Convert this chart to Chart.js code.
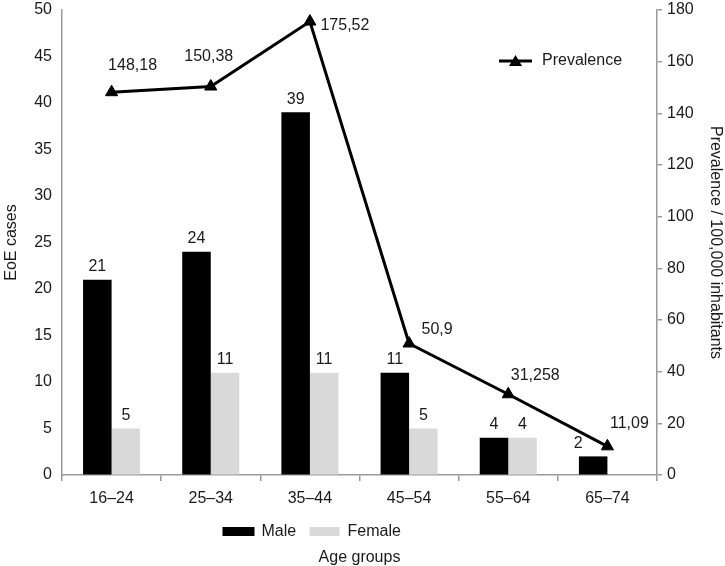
<!DOCTYPE html>
<html>
<head>
<meta charset="utf-8">
<script src="https://cdn.jsdelivr.net/npm/chart.js@4.4.1/dist/chart.umd.min.js"></script>
<style>
    html, body { margin: 0; padding: 0; background: #fff; }
</style>
</head>
<body>
<canvas id="myChart" width="725" height="566"></canvas>
<script>
const ageGroups   = ['16–24', '25–34', '35–44', '45–54', '55–64', '65–74'];
const maleCases   = [21, 24, 39, 11, 4, 2];
const femaleCases = [5, 11, 11, 5, 4, null];
const prevalence  = [148.18, 150.38, 175.52, 50.9, 31.258, 11.09];
const casesTicks  = [0, 5, 10, 15, 20, 25, 30, 35, 40, 45, 50];
const prevTicks   = [0, 20, 40, 60, 80, 100, 120, 140, 160, 180];

const FONT = '"Liberation Sans", Arial, Helvetica, sans-serif';
const TEXT = '#1a1a1a';
const AXIS = '#9a9a9a';

Chart.defaults.font.family = FONT;
Chart.defaults.font.size = 16;
Chart.defaults.color = TEXT;

// values above bars and next to the line points
const valueLabels = {
    id: 'valueLabels',
    afterDatasetsDraw(chart, args, opts) {
        const ctx = chart.ctx;
        ctx.save();
        ctx.font = '16px ' + FONT;
        ctx.fillStyle = TEXT;
        ctx.textAlign = 'center';
        ctx.textBaseline = 'middle';
        chart.data.datasets.forEach((ds, i) => {
            const meta = chart.getDatasetMeta(i);
            meta.data.forEach((el, j) => {
                const v = ds.data[j];
                if (v == null) return;
                const txt = String(v).replace('.', ',');
                if (ds.type === 'line') {
                    const off = opts.lineOffsets[j];
                    ctx.fillText(txt, el.x + off[0], el.y + off[1]);
                } else {
                    // the last male label moves left, out of the line's way
                    const dx = (ds.label === 'Male' && j === ds.data.length - 1) ? -15 : 0;
                    ctx.fillText(txt, el.x + dx, el.y - 13);
                }
            });
        });
        ctx.restore();
    }
};

// Male/Female under the axis, Prevalence inside the plot
const legends = {
    id: 'legends',
    afterDraw(chart) {
        const ctx = chart.ctx;
        const a = chart.chartArea;
        const cx = (a.left + a.right) / 2;
        const ly = a.bottom + 57;
        ctx.save();
        ctx.font = '16px ' + FONT;
        ctx.fillStyle = TEXT;
        ctx.textBaseline = 'middle';
        ctx.textAlign = 'left';

        ctx.fillStyle = '#000';
        ctx.fillRect(cx - 137, ly - 5, 32, 9);
        ctx.fillStyle = TEXT;
        ctx.fillText('Male', cx - 98, ly);
        ctx.fillStyle = '#d9d9d9';
        ctx.fillRect(cx - 50, ly - 5, 30, 9);
        ctx.fillStyle = TEXT;
        ctx.fillText('Female', cx - 12, ly);

        const py = a.top + 51;
        ctx.strokeStyle = '#000';
        ctx.lineWidth = 3;
        ctx.beginPath();
        ctx.moveTo(a.right - 158, py);
        ctx.lineTo(a.right - 125, py);
        ctx.stroke();
        ctx.fillStyle = '#000';
        ctx.beginPath();
        ctx.moveTo(a.right - 141.5, py - 6);
        ctx.lineTo(a.right - 135, py + 5);
        ctx.lineTo(a.right - 148, py + 5);
        ctx.closePath();
        ctx.fill();
        ctx.fillStyle = TEXT;
        ctx.fillText('Prevalence', a.right - 115, py);
        ctx.restore();
    }
};

new Chart(document.getElementById('myChart'), {
    type: 'bar',
    data: {
        labels  : ageGroups,
        datasets: [
            {
                type           : 'line',
                label          : 'Prevalence',
                data           : prevalence,
                yAxisID        : 'y2',
                borderColor    : '#000',
                backgroundColor: '#000',
                borderWidth    : 3,
                pointStyle     : 'triangle',
                pointRadius    : 7,
                pointBorderWidth: 1,
                tension        : 0,
                order          : 0
            },
            {
                label          : 'Male',
                data           : maleCases,
                yAxisID        : 'y',
                backgroundColor: '#000',
                order          : 1
            },
            {
                label          : 'Female',
                data           : femaleCases,
                yAxisID        : 'y',
                backgroundColor: '#d9d9d9',
                order          : 1
            }
        ]
    },
    options: {
        responsive: false,
        animation : false,
        events    : [],
        layout    : { padding: 0 },
        datasets  : { bar: { barPercentage: 1, categoryPercentage: 0.575 } },
        plugins   : {
            legend     : { display: false },
            tooltip    : { enabled: false },
            valueLabels: { lineOffsets: [[21, -27], [-2, -30], [35, 4], [28, -14], [27, -19], [22, -23]] }
        },
        scales: {
            x : {
                offset: true,
                grid  : { offset: true, drawOnChartArea: false, drawTicks: true, tickLength: 6, color: AXIS, lineWidth: 1.5 },
                border: { color: AXIS, width: 1.5 },
                ticks : { padding: 8, maxRotation: 0 },
                title : { display: true, text: 'Age groups', padding: { top: 0, bottom: 0 }, font: { lineHeight: 1 } },
                afterFit(scale) { scale.height = 91; }
            },
            y : {
                position: 'left',
                min: 0, max: 50,
                afterBuildTicks(scale) { scale.ticks = casesTicks.map(v => ({ value: v })); },
                ticks : { padding: 10 },
                grid  : { drawOnChartArea: false, drawTicks: false },
                border: { color: AXIS, width: 1.5 },
                title : { display: true, text: 'EoE cases', padding: { top: 2, bottom: 0 } },
                afterFit(scale) { scale.width = 62; scale.paddingTop = 10; scale.paddingBottom = 0; }
            },
            y2: {
                position: 'right',
                min: 0, max: 180,
                afterBuildTicks(scale) { scale.ticks = prevTicks.map(v => ({ value: v })); },
                ticks : { padding: 5 },
                grid  : { drawOnChartArea: false, drawTicks: true, tickLength: 5, color: AXIS, lineWidth: 1.5 },
                border: { color: AXIS, width: 1.5 },
                title : { display: true, text: 'Prevalence / 100,000 inhabitants', padding: { top: 0, bottom: 0 } },
                afterFit(scale) { scale.width = 68; scale.paddingTop = 10; scale.paddingBottom = 0; }
            }
        }
    },
    plugins: [valueLabels, legends]
});
</script>
</body>
</html>
